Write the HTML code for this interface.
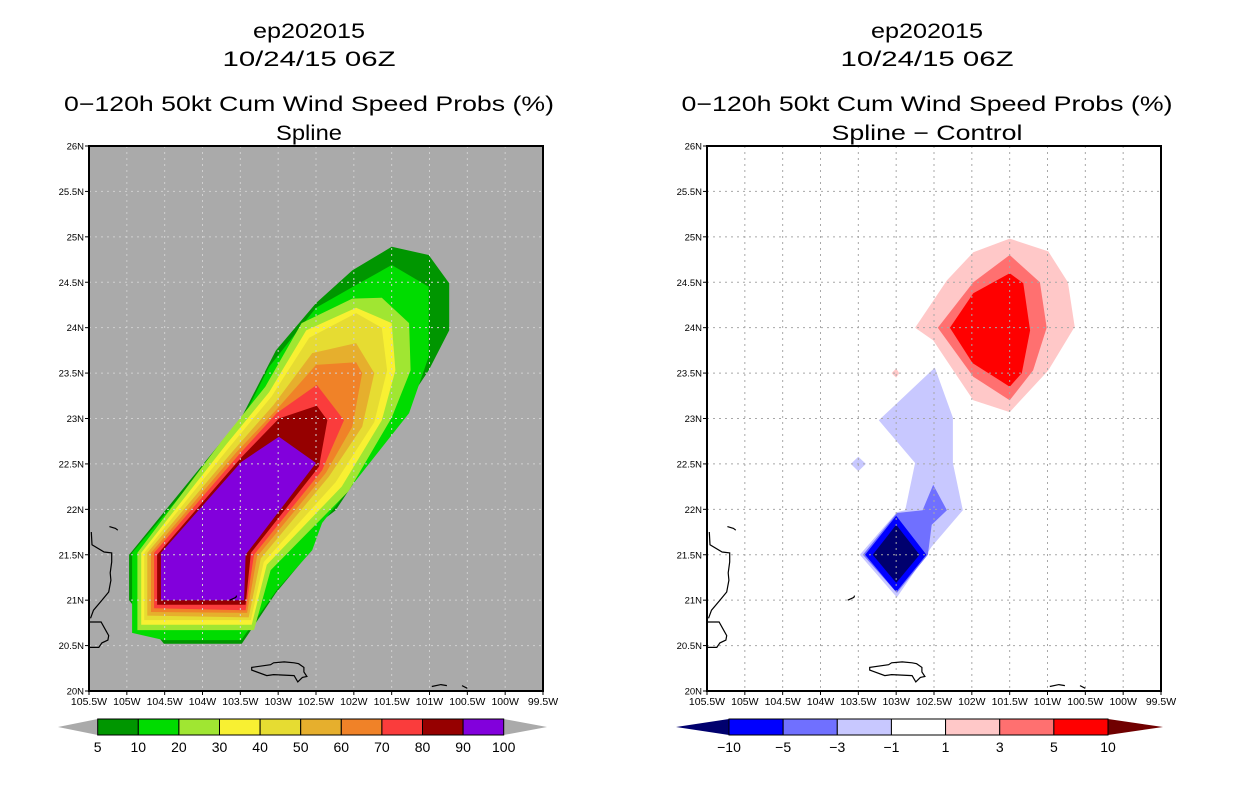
<!DOCTYPE html>
<html><head><meta charset="utf-8">
<style>
html,body{margin:0;padding:0;background:#fff;}
svg{display:block;font-family:"Liberation Sans",sans-serif;}
</style></head>
<body>
<svg id="fig" width="1236" height="800" viewBox="0 0 1236 800" xmlns="http://www.w3.org/2000/svg"></svg>
<script>
// ---- data ----
const lonTicks = [-105.5,-105,-104.5,-104,-103.5,-103,-102.5,-102,-101.5,-101,-100.5,-100,-99.5];
const lonLabels = ["105.5W","105W","104.5W","104W","103.5W","103W","102.5W","102W","101.5W","101W","100.5W","100W","99.5W"];
const latTicks = [20,20.5,21,21.5,22,22.5,23,23.5,24,24.5,25,25.5,26];
const latLabels = ["20N","20.5N","21N","21.5N","22N","22.5N","23N","23.5N","24N","24.5N","25N","25.5N","26N"];

const probLevels = [5,10,20,30,40,50,60,70,80,90,100];
const probColors = ["#009600","#00dc00","#a0e632","#f8f032","#e6dc32","#e6af2d","#f08228","#fa3c3c","#960000","#8200dc"];
const diffLevels = ["-10","-5","-3","-1","1","3","5","10"];
const diffColors = ["#00006e","#0000ff","#7070ff","#c8c8ff","#ffffff","#ffc8c8","#ff7070","#ff0000","#700000"];

// Left panel contour polygons (lon, lat), outer -> inner
const probPolys = [
 [[-104.97,21.5],[-104.97,21.0],[-104.51,20.52],[-103.48,20.52],[-103.03,21.08],[-102.59,21.52],[-102.46,21.85],[-102.24,21.99],[-101.89,22.43],[-101.01,23.53],[-100.74,23.97],[-100.74,24.49],[-101.01,24.80],[-101.5,24.89],[-102.02,24.63],[-102.5,24.27],[-103.03,23.75],[-103.48,23.02]],
 [[-104.93,21.52],[-104.93,20.64],[-104.51,20.56],[-103.49,20.56],[-103.02,21.11],[-102.55,21.55],[-102.42,21.85],[-102.18,22.1],[-101.27,23.06],[-101.01,23.68],[-101.01,24.45],[-101.5,24.69],[-101.97,24.47],[-102.5,24.22],[-103.12,23.57],[-103.52,22.91]],
 [[-104.86,21.52],[-104.86,20.67],[-103.32,20.67],[-103.1,21.33],[-102.07,22.2],[-101.5,23.01],[-101.25,23.53],[-101.27,24.05],[-101.63,24.33],[-102.02,24.32],[-102.69,24.05],[-103.17,23.35],[-103.74,22.76]],
 [[-104.81,21.52],[-104.81,20.73],[-103.35,20.73],[-103.15,21.39],[-102.16,22.25],[-101.63,22.98],[-101.45,23.53],[-101.5,24.05],[-101.97,24.22],[-102.63,23.97],[-103.12,23.29],[-103.69,22.71]],
 [[-104.77,21.52],[-104.77,20.78],[-103.36,20.78],[-103.19,21.42],[-102.24,22.3],[-101.73,22.96],[-101.56,23.53],[-101.63,24.0],[-101.97,24.16],[-102.59,23.89],[-103.09,23.24],[-103.65,22.68]],
 [[-104.73,21.52],[-104.73,20.83],[-103.39,20.81],[-103.23,21.46],[-102.33,22.36],[-101.89,22.91],[-101.73,23.5],[-101.97,23.83],[-102.55,23.72],[-103.06,23.15],[-103.61,22.63]],
 [[-104.68,21.52],[-104.68,20.87],[-103.41,20.86],[-103.28,21.48],[-102.37,22.4],[-102.02,22.91],[-101.89,23.5],[-101.97,23.62],[-102.5,23.59],[-103.03,23.09],[-103.56,22.62]],
 [[-104.64,21.52],[-104.64,20.91],[-103.43,20.89],[-103.32,21.5],[-102.42,22.43],[-102.13,22.98],[-102.49,23.37],[-103.02,23.06],[-103.52,22.6]],
 [[-104.6,21.5],[-104.6,20.95],[-103.43,20.95],[-103.36,21.52],[-102.46,22.47],[-102.35,22.98],[-102.49,23.14],[-102.99,23.0],[-103.49,22.57]],
 [[-104.55,21.52],[-104.55,21.0],[-103.45,21.0],[-103.43,21.5],[-102.5,22.51],[-102.99,22.8],[-103.49,22.52]]
];
// Right panel difference polygons with color index
const diffPolyColor = [5,6,7,3,3,2,1,0,5];
const diffPolys = [
 [[-102.75,24.0],[-102.33,24.52],[-101.98,24.83],[-101.5,24.98],[-100.99,24.84],[-100.73,24.5],[-100.64,24.01],[-100.99,23.53],[-101.5,23.07],[-101.98,23.2],[-102.51,23.86]],
 [[-102.45,24.0],[-101.98,24.5],[-101.5,24.8],[-101.1,24.5],[-101.01,24.0],[-101.19,23.53],[-101.5,23.2],[-101.98,23.46]],
 [[-102.29,24.0],[-101.98,24.38],[-101.5,24.6],[-101.32,24.49],[-101.23,23.97],[-101.34,23.5],[-101.5,23.35],[-101.99,23.61]],
 [[-102.49,23.56],[-102.25,23.01],[-102.25,22.51],[-102.12,21.99],[-102.53,21.59],[-102.99,21.03],[-103.48,21.5],[-102.99,21.97],[-102.88,21.99],[-102.75,22.51],[-103.23,22.98]],
 [[-103.6,22.5],[-103.5,22.42],[-103.4,22.5],[-103.5,22.58]],
 [[-102.51,22.27],[-102.33,21.99],[-102.53,21.83],[-102.58,21.5],[-102.99,21.08],[-103.44,21.5],[-102.99,21.96],[-102.65,21.99]],
 [[-103.0,21.93],[-102.6,21.5],[-103.0,21.09],[-103.41,21.5]],
 [[-103.0,21.83],[-102.69,21.5],[-103.0,21.19],[-103.31,21.5]],
 [[-103.06,23.5],[-103.0,23.45],[-102.96,23.5],[-103.0,23.55]]
];
// coastlines (lon, lat)
const coast1 = [[-105.47,21.75],[-105.46,21.61],[-105.3,21.53],[-105.2,21.52],[-105.2,21.42],[-105.22,21.3],[-105.21,21.22],[-105.24,21.09],[-105.33,21.0],[-105.44,20.89],[-105.48,20.8]];
const coast2 = [[-105.5,20.76],[-105.34,20.76],[-105.28,20.67],[-105.24,20.61],[-105.25,20.56],[-105.33,20.53],[-105.37,20.48],[-105.5,20.48]];
const island = [[-103.35,20.26],[-103.35,20.23],[-103.15,20.17],[-103.06,20.18],[-102.79,20.17],[-102.74,20.1],[-102.68,20.15],[-102.62,20.16],[-102.66,20.21],[-102.66,20.26],[-102.73,20.3],[-102.79,20.31],[-102.92,20.32],[-103.06,20.31],[-103.1,20.29]];
const islet1 = [[-105.23,21.81],[-105.15,21.79],[-105.12,21.77]];
const islet2 = [[-103.64,21.0],[-103.56,21.03],[-103.55,21.05]];
const islet3 = [[-100.97,20.05],[-100.85,20.07],[-100.77,20.06]];
const islet4 = [[-100.57,20.06],[-100.5,20.03]];

// ---- helpers ----
const NS = "http://www.w3.org/2000/svg";
const svg = document.getElementById('fig');
function mk(tag, attrs, parent){const e=document.createElementNS(NS,tag);for(const k in attrs)e.setAttribute(k,attrs[k]);(parent||svg).appendChild(e);return e;}
const W=454,H=545;
function xScale(x0){return lon=>x0+(lon+105.5)/6*W;}
function yScale(y0){return lat=>y0+H-(lat-20)/6*H;}
function pts(poly,xs,ys){return poly.map(p=>xs(p[0]).toFixed(1)+","+ys(p[1]).toFixed(1)).join(" ");}

function title(cx, lines){
  const ys=[38,66,111,140];
  lines.forEach((t,i)=>{
    const el=mk('text',{x:cx,y:ys[i],'text-anchor':'middle','font-size':21,fill:'#000',textLength:t[1],lengthAdjust:'spacingAndGlyphs'});
    el.textContent=t[0];
    
    
  });
}

function panel(x0,bg,gridColor,polys,colors,name){
  const xs=xScale(x0), ys=yScale(146);
  const g=mk('g',{});
  
  
  const r=mk('rect',{x:x0,y:146,width:W,height:H,fill:bg},g);
  
  
  polys.forEach((p,i)=>{
    const pl=mk('polygon',{points:pts(p,xs,ys),fill:colors[i]},g);
    
    
  });
  lonTicks.slice(1,-1).forEach(l=>{
    const ln=mk('line',{x1:xs(l),x2:xs(l),y1:146,y2:691,stroke:gridColor,'stroke-width':1,'stroke-dasharray':'2,4'},g);
    
    
  });
  latTicks.slice(1,-1).forEach(l=>{
    const ln=mk('line',{x1:x0,x2:x0+W,y1:ys(l),y2:ys(l),stroke:gridColor,'stroke-width':1,'stroke-dasharray':'2,4'},g);
    
    
  });
  [coast1,coast2,island,islet1,islet2,islet3,islet4].forEach((c,i)=>{
    const pl=mk(i==2?'polygon':'polyline',{points:pts(c,xs,ys),fill:'none',stroke:'#000','stroke-width':1.2},g);
    
    
  });
  const fr=mk('rect',{x:x0,y:146,width:W,height:H,fill:'none',stroke:'#000','stroke-width':2},g);
  
  
  lonTicks.forEach((l,i)=>{
    mk('line',{x1:xs(l),x2:xs(l),y1:691,y2:695,stroke:'#000'},g);
    const t=mk('text',{x:xs(l),y:705,'text-anchor':'middle','font-size':10.5,fill:'#000'},g);
    t.textContent=lonLabels[i];
    
    
  });
  latTicks.forEach((l,i)=>{
    mk('line',{x1:x0-4,x2:x0,y1:ys(l),y2:ys(l),stroke:'#000'},g);
    const t=mk('text',{x:x0-5,y:ys(l)+3.5,'text-anchor':'end','font-size':9.5,fill:'#000'},g);
    t.textContent=latLabels[i];
    
    
  });
}

function colorbar(tipL,bx0,bx1,tipR,colors,labels,leftTri,rightTri,name){
  const g=mk('g',{});
  
  
  const y0=719,y1=735,ym=727;
  const n=labels.length-1;
  const bw=(bx1-bx0)/n;
  const t1=mk('polygon',{points:`${tipL},${ym} ${bx0},${y0} ${bx0},${y1}`,fill:leftTri},g);
  
  
  const t2=mk('polygon',{points:`${tipR},${ym} ${bx1},${y0} ${bx1},${y1}`,fill:rightTri},g);
  
  
  for(let i=0;i<n;i++){
    const b=mk('rect',{x:bx0+i*bw,y:y0,width:bw,height:y1-y0,fill:colors[i],stroke:'#000','stroke-width':1},g);
    
    
  }
  labels.forEach((l,i)=>{
    const t=mk('text',{x:bx0+i*bw,y:752,'text-anchor':'middle','font-size':14,fill:'#000'},g);
    t.textContent=String(l).replace('-','\u2212');
    
    
  });
}

// ---- draw ----
title(309,[["ep202015",112],["10/24/15 06Z",173],["0\u2212120h 50kt Cum Wind Speed Probs (%)",490],["Spline",66]]);
title(927,[["ep202015",112],["10/24/15 06Z",173],["0\u2212120h 50kt Cum Wind Speed Probs (%)",491],["Spline \u2212 Control",191]]);

panel(89,'#aaaaaa','#d0d0d0',probPolys,probColors,'spline-prob-map');
panel(707,'#ffffff','#a8a8a8',diffPolys,diffPolyColor.map(i=>diffColors[i]),'difference-map');

colorbar(58,97.7,503.7,547,probColors,probLevels,'#aaaaaa','#aaaaaa','prob-colorbar');
colorbar(676,729,1108,1163,diffColors.slice(1,8),diffLevels,diffColors[0],diffColors[8],'diff-colorbar');
</script>
</body></html>
